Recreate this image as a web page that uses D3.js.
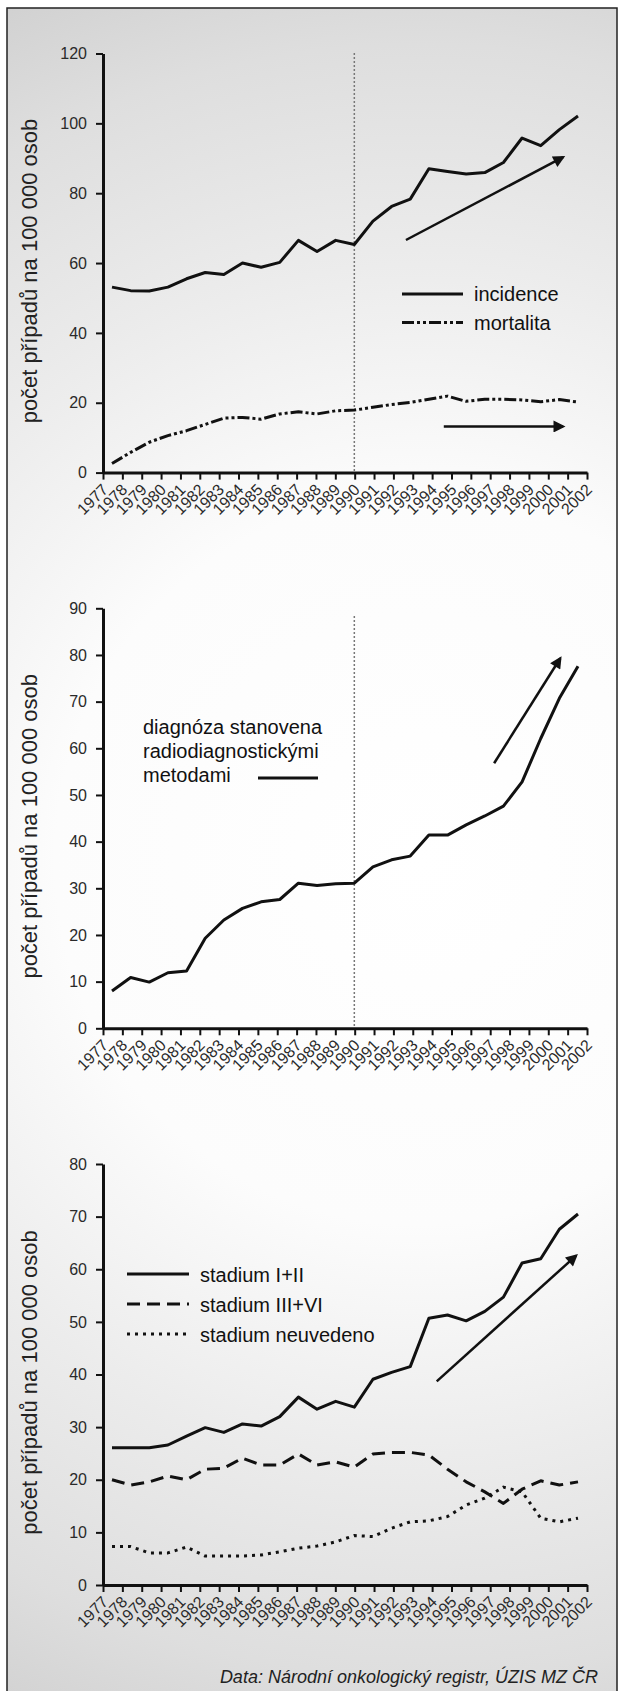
<!DOCTYPE html>
<html><head><meta charset="utf-8">
<script src="https://cdn.jsdelivr.net/npm/d3@7"></script>
<style>
html,body{margin:0;padding:0;background:#fff;}
svg{display:block;font-family:"Liberation Sans",Arial,sans-serif;}
</style></head><body>
<svg id="c" width="618" height="1691"></svg>
<script>
// ---------- DATA ----------
const YEARS = ["1977","1978","1979","1980","1981","1982","1983","1984","1985","1986","1987","1988","1989",
               "1990","1991","1992","1993","1994","1995","1996","1997","1998","1999","2000","2001","2002"];

const INCIDENCE = [53.1,52.1,52.0,53.1,55.5,57.3,56.7,60.0,58.8,60.2,66.5,63.3,66.5,
                   65.3,72.0,76.2,78.3,87.0,86.2,85.5,85.9,88.8,95.8,93.6,98.2,102.1];
const MORTALITA = [2.6,5.8,8.7,10.6,12.0,13.8,15.6,15.8,15.3,16.8,17.4,16.8,17.7,
                   17.9,18.7,19.5,20.1,21.0,21.9,20.4,21.0,21.0,20.8,20.3,20.9,20.2];
const RADIODIAG = [8.0,10.9,9.9,11.9,12.3,19.3,23.2,25.7,27.1,27.6,31.1,30.6,31.0,
                   31.1,34.6,36.1,36.9,41.4,41.4,43.6,45.5,47.6,52.8,62.1,70.7,77.6];
const STADIUM_12 = [26.1,26.1,26.1,26.6,28.3,29.9,29.0,30.6,30.2,32.0,35.7,33.4,34.9,
                    33.8,39.1,40.4,41.5,50.7,51.3,50.2,52.0,54.7,61.2,62.0,67.6,70.5];
const STADIUM_34 = [20.0,19.0,19.6,20.7,20.0,22.0,22.2,24.1,22.8,22.8,24.9,22.8,23.4,
                    22.4,24.9,25.2,25.2,24.7,22.0,19.6,17.7,15.5,18.2,19.8,19.0,19.6];
const STADIUM_NO = [7.3,7.3,6.1,6.1,7.2,5.5,5.5,5.5,5.7,6.3,7.0,7.4,8.2,
                    9.4,9.2,10.8,12.0,12.2,13.0,15.2,16.5,18.6,17.7,12.7,12.0,12.7];

const Y_TICKS_1 = [0,20,40,60,80,100,120];
const Y_TICKS_2 = [0,10,20,30,40,50,60,70,80,90];
const Y_TICKS_3 = [0,10,20,30,40,50,60,70,80];

// trend arrows: [fromYear, fromValue, toYear, toValue]
const ARROWS_1 = [[1992.77,66.6,2001.2,90.3],[1994.8,13.2,2001.2,13.2]];
const ARROWS_2 = [[1997.5,56.8,2001.05,79.3]];
const ARROWS_3 = [[1994.42,38.7,2001.9,62.6]];

const Y_TITLE = "počet případů na 100 000 osob";
const FOOTER = "Data: Národní onkologický registr, ÚZIS MZ ČR";

// ---------- STYLE / LAYOUT ----------
const X0 = 103, X1 = 587;          // axis extent
const DX0 = 112, DX1 = 578;        // data extent
const DASH_MORT = "12,3,3,3,3,3";
const DASH_34 = "13,7";
const DASH_NO = "3,5";

const svg = d3.select("#c");
const defs = svg.append("defs");
const rg = defs.append("radialGradient").attr("id","bg").attr("gradientUnits","userSpaceOnUse")
  .attr("cx",420).attr("cy",860).attr("r",960);
[[0,"#ffffff"],[0.38,"#fcfcfc"],[0.62,"#ececec"],[0.85,"#dedede"],[1,"#d0d0d0"]].forEach(s=>
  rg.append("stop").attr("offset",s[0]).attr("stop-color",s[1]));
defs.append("marker").attr("id","ah").attr("viewBox","0 0 10 10").attr("refX",8).attr("refY",5)
  .attr("markerUnits","userSpaceOnUse").attr("markerWidth",16).attr("markerHeight",12)
  .attr("orient","auto").append("path").attr("d","M0,0L10,5L0,10Z").attr("fill","#111");

svg.append("rect").attr("width",618).attr("height",1691).attr("fill","#fff");
svg.append("rect").attr("x",7).attr("y",8).attr("width",610).attr("height",1700)
  .attr("fill","url(#bg)").attr("stroke","#222").attr("stroke-width",1.5);

const xYears = YEARS.map(Number);
const xAxisScale = d3.scaleLinear().domain([1977,2002]).range([X0,X1]);
const xData = d3.scaleLinear().domain([1977,2002]).range([DX0,DX1]);

function drawChart(cfg){
  const g = svg.append("g");
  const y = d3.scaleLinear().domain([0,cfg.max]).range([cfg.bottom,cfg.top]);

  if(cfg.vline){
    g.append("line").attr("x1",xData(cfg.vline)).attr("x2",xData(cfg.vline))
      .attr("y1",cfg.vlineTop).attr("y2",cfg.bottom)
      .attr("stroke","#777").attr("stroke-width",1.5).attr("stroke-dasharray","2,2");
  }

  const ya = g.append("g").attr("transform",`translate(${X0},0)`)
    .call(d3.axisLeft(y).tickValues(cfg.ticks).tickSize(7).tickSizeOuter(0).tickPadding(9));
  ya.select(".domain").attr("stroke","#111").attr("stroke-width",3);
  ya.selectAll(".tick line").attr("stroke","#111").attr("stroke-width",2);
  ya.selectAll(".tick text").attr("font-size",16).attr("fill","#2a2a2a")
    .attr("font-family","'Liberation Sans',Arial,sans-serif");

  const xa = g.append("g").attr("transform",`translate(0,${cfg.bottom})`)
    .call(d3.axisBottom(xAxisScale).tickValues(xYears).tickSize(7).tickSizeOuter(0).tickFormat(""));
  xa.select(".domain").attr("stroke","#111").attr("stroke-width",3);
  xa.selectAll(".tick line").attr("stroke","#111").attr("stroke-width",2);
  g.append("g").selectAll("text").data(YEARS).join("text")
    .attr("transform",d=>`translate(${xAxisScale(+d)+6},${cfg.bottom+18}) rotate(-45)`)
    .attr("text-anchor","end").attr("font-size",16).attr("fill","#2a2a2a").text(d=>d);

  g.append("text").attr("transform",`translate(37,${(cfg.top+cfg.bottom)/2+8}) rotate(-90)`)
    .attr("text-anchor","middle").attr("font-size",22).attr("fill","#222").text(Y_TITLE);

  const line = d3.line().x((d,i)=>xData(xYears[i])).y(d=>y(d));
  cfg.series.forEach(s=>{
    g.append("path").attr("d",line(s.vals)).attr("fill","none").attr("stroke","#111")
      .attr("stroke-width",3).attr("stroke-linejoin","round")
      .attr("stroke-dasharray",s.dash||null);
  });

  cfg.arrows.forEach(a=>{
    g.append("line").attr("x1",xData(a[0])).attr("y1",y(a[1]))
      .attr("x2",xData(a[2])).attr("y2",y(a[3]))
      .attr("stroke","#111").attr("stroke-width",2.5).attr("marker-end","url(#ah)");
  });

  if(cfg.legend) cfg.legend(g);
}

drawChart({top:53.5,bottom:472.6,max:120,ticks:Y_TICKS_1,vline:1990,vlineTop:53,
  series:[{vals:INCIDENCE},{vals:MORTALITA,dash:DASH_MORT}],arrows:ARROWS_1,
  legend:g=>{
    const items=[{t:"incidence",d:null,y:294},{t:"mortalita",d:DASH_MORT,y:322.5}];
    items.forEach(it=>{
      g.append("line").attr("x1",402).attr("x2",463).attr("y1",it.y).attr("y2",it.y)
        .attr("stroke","#111").attr("stroke-width",3).attr("stroke-dasharray",it.d);
      g.append("text").attr("x",474).attr("y",it.y+7).attr("font-size",20).attr("fill","#111").text(it.t);
    });
  }});

drawChart({top:608.3,bottom:1028.3,max:90,ticks:Y_TICKS_2,vline:1990,vlineTop:616,
  series:[{vals:RADIODIAG}],arrows:ARROWS_2,
  legend:g=>{
    const lines=["diagnóza stanovena","radiodiagnostickými","metodami"];
    lines.forEach((t,i)=>g.append("text").attr("x",143).attr("y",733.5+i*24.4)
      .attr("font-size",20).attr("fill","#111").text(t));
    g.append("line").attr("x1",258).attr("x2",318).attr("y1",778).attr("y2",778)
      .attr("stroke","#111").attr("stroke-width",3);
  }});

drawChart({top:1164,bottom:1585,max:80,ticks:Y_TICKS_3,
  series:[{vals:STADIUM_12},{vals:STADIUM_34,dash:DASH_34},{vals:STADIUM_NO,dash:DASH_NO}],
  arrows:ARROWS_3,
  legend:g=>{
    const items=[{t:"stadium I+II",d:null,y:1274},{t:"stadium III+VI",d:DASH_34,y:1304},
                 {t:"stadium neuvedeno",d:DASH_NO,y:1334}];
    items.forEach(it=>{
      g.append("line").attr("x1",127).attr("x2",189).attr("y1",it.y).attr("y2",it.y)
        .attr("stroke","#111").attr("stroke-width",3).attr("stroke-dasharray",it.d);
      g.append("text").attr("x",200).attr("y",it.y+7.5).attr("font-size",20).attr("fill","#111").text(it.t);
    });
  }});

svg.append("text").attr("x",598).attr("y",1683).attr("text-anchor","end")
  .attr("font-size",18).attr("font-style","italic").attr("fill","#222").text(FOOTER);
</script>
</body></html>
